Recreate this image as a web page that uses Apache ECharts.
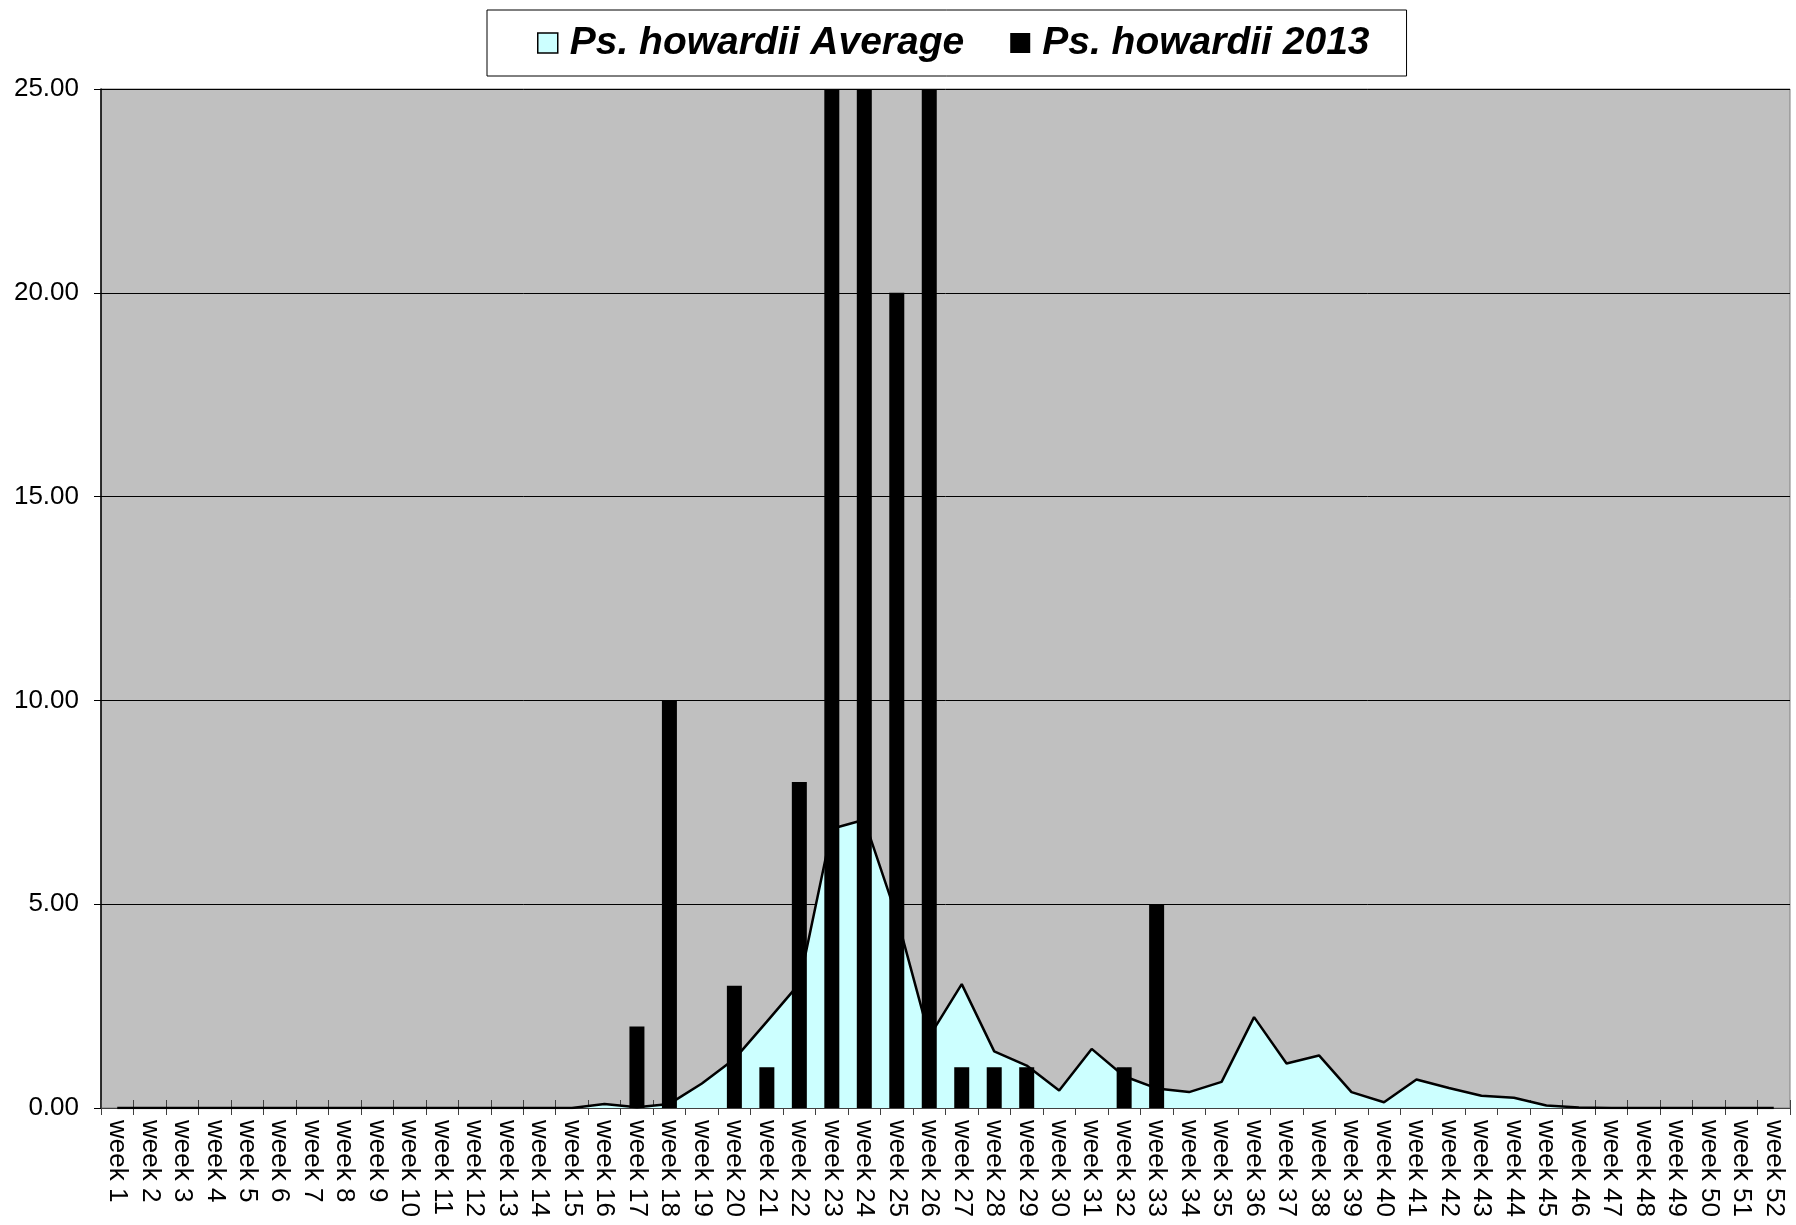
<!DOCTYPE html>
<html>
<head>
<meta charset="utf-8">
<script src="https://cdn.jsdelivr.net/npm/echarts@6/dist/echarts.min.js"></script>
<style>
  html, body { margin: 0; padding: 0; background: #fff; }
  #container { width: 1796px; height: 1225px; }
</style>
</head>
<body>
<div id="container"></div>
<script>
var weeks = [];
for (var i = 1; i <= 52; i++) weeks.push('week ' + i);

// Ps. howardii Average (area)
var avgValues = [
  0, 0, 0, 0, 0, 0, 0, 0, 0, 0,
  0, 0, 0, 0, 0, 0.1, 0.02, 0.1, 0.6, 1.2,
  2.12, 3.05, 6.85, 7.07, 4.7, 1.75, 3.04, 1.39, 1.04, 0.43,
  1.45, 0.78, 0.48, 0.39, 0.64, 2.23, 1.09, 1.29, 0.39, 0.14,
  0.7, 0.49, 0.3, 0.25, 0.06, 0.01, 0, 0, 0, 0,
  0, 0
];

// Ps. howardii 2013 (bars, weeks 23/24/26 run off the top of the axis)
var y2013Values = [
  0, 0, 0, 0, 0, 0, 0, 0, 0, 0,
  0, 0, 0, 0, 0, 0, 2, 10, 0, 3,
  1, 8, 25, 25, 20, 25, 1, 1, 1, 0,
  0, 1, 5, 0, 0, 0, 0, 0, 0, 0,
  0, 0, 0, 0, 0, 0, 0, 0, 0, 0,
  0, 0
];

var seriesNames = ['Ps. howardii Average', 'Ps. howardii 2013'];
var yTicks = [0, 5, 10, 15, 20, 25];

var dom = document.getElementById('container');
var myChart = echarts.init(dom, null, { renderer: 'canvas' });

var font = 'Liberation Sans, Arial, sans-serif';

var option = {
  animation: false,
  backgroundColor: '#ffffff',
  legend: {
    data: [
      { name: seriesNames[0], icon: 'rect', itemStyle: { color: '#ccffff', borderColor: '#000', borderWidth: 1.5 } },
      { name: seriesNames[1], icon: 'rect', itemStyle: { color: '#000' } }
    ],
    left: 487,
    top: 10,
    itemWidth: 20,
    itemHeight: 20,
    itemGap: 46,
    padding: [12, 37, 12, 50],
    borderColor: '#000',
    borderWidth: 1,
    textStyle: {
      fontFamily: font,
      fontSize: 39,
      fontWeight: 'bold',
      fontStyle: 'italic',
      color: '#000',
      padding: [0, 0, 0, 7],
      lineHeight: 42
    }
  },
  grid: {
    left: 101,
    right: 6,
    top: 89,
    bottom: 117,
    show: true,
    backgroundColor: '#c0c0c0',
    borderColor: '#808080',
    borderWidth: 1
  },
  xAxis: [{
    type: 'category',
    data: weeks,
    boundaryGap: true,
    axisLine: { lineStyle: { color: '#404040', width: 1 } },
    axisTick: { show: true, interval: 0, length: 7, lineStyle: { color: '#404040' } },
    axisLabel: {
      interval: 0,
      rotate: -90,
      margin: 12,
      fontFamily: font,
      fontSize: 26,
      color: '#000'
    }
  }, {
    type: 'category',
    data: weeks,
    position: 'bottom',
    boundaryGap: true,
    axisLine: { show: false },
    axisTick: { show: true, inside: true, interval: 0, length: 8, lineStyle: { color: '#404040' } },
    axisLabel: { show: false }
  }],
  yAxis: {
    type: 'value',
    min: yTicks[0],
    max: yTicks[yTicks.length - 1],
    interval: 5,
    axisLine: { show: true, lineStyle: { color: '#000', width: 1.5 } },
    axisTick: { show: true, length: 7, lineStyle: { color: '#000' } },
    splitLine: { show: true, lineStyle: { color: '#000', width: 1 } },
    axisLabel: {
      margin: 22,
      fontFamily: font,
      fontSize: 26,
      color: '#000',
      formatter: function (v) { return v.toFixed(2); }
    }
  },
  series: [{
    name: seriesNames[0],
    type: 'line',
    data: avgValues,
    symbol: 'none',
    lineStyle: { color: '#000', width: 2.5 },
    itemStyle: { color: '#ccffff' },
    areaStyle: { color: '#ccffff', opacity: 1 },
    z: 2
  }, {
    name: seriesNames[1],
    type: 'bar',
    data: y2013Values,
    barWidth: 15,
    itemStyle: { color: '#000' },
    clip: true,
    z: 3
  }]
};

myChart.setOption(option);
</script>
</body>
</html>
